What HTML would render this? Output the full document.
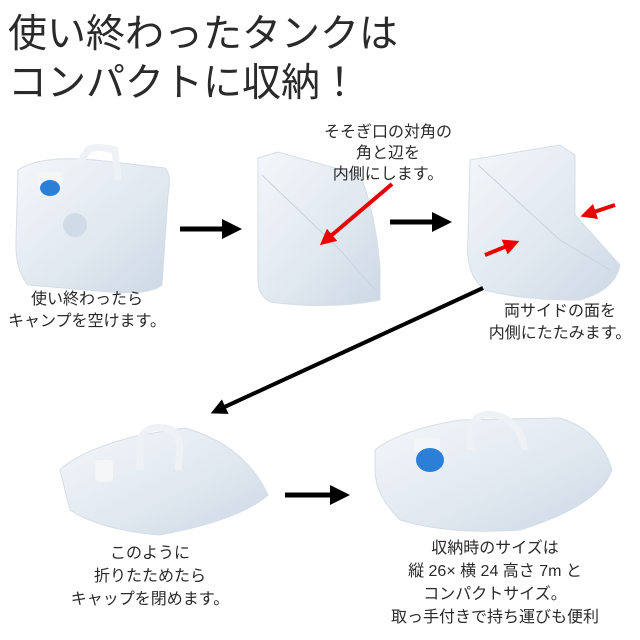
<!DOCTYPE html>
<html><head><meta charset="utf-8"><style>
body{margin:0;background:#fff}
svg{display:block}
text{font-family:"Liberation Sans","Noto Sans CJK JP",sans-serif;fill:#2a2a2a}
.c{font-size:16px;text-anchor:middle}
</style></head><body>
<svg width="640" height="640" viewBox="0 0 640 640">
<defs>
<linearGradient id="g" x1="0" y1="0" x2="1" y2="1"><stop offset="0" stop-color="#f4f7fb"/><stop offset="0.6" stop-color="#dfe7ef"/><stop offset="1" stop-color="#cdd8e4"/></linearGradient>
<marker id="ah" markerWidth="4" markerHeight="4" refX="2" refY="2" orient="auto" markerUnits="strokeWidth"><path d="M0,0 L4,2 L0,4 z" fill="#000"/></marker>
<marker id="rh" markerWidth="4" markerHeight="4" refX="2" refY="2" orient="auto" markerUnits="strokeWidth"><path d="M0,0 L4,2 L0,4 z" fill="#e00"/></marker>
</defs>
<text x="8" y="47" font-size="39">使い終わったタンクは</text>
<text x="8" y="96" font-size="39">コンパクトに収納！</text>

<!-- tank1 -->
<path d="M18,170 Q40,155 95,160 L165,168 Q172,175 168,195 L162,285 Q150,295 110,292 L28,285 Q15,270 16,240 Z" fill="url(#g)" stroke="#d5dde6"/>
<path d="M80,162 L88,150 Q95,145 115,150 L118,180" fill="none" stroke="#eef2f6" stroke-width="7"/>
<rect x="38" y="172" width="24" height="14" fill="#f3f5f8"/>
<ellipse cx="50" cy="188" rx="10" ry="8" fill="#2b7fd6"/>
<circle cx="75" cy="225" r="12" fill="#d0dbe7"/>
<path d="M180,229 L232,229" stroke="#000" stroke-width="5" marker-end="url(#ah)"/>

<!-- tank2 -->
<path d="M258,158 L278,152 L360,175 Q375,210 380,268 L380,300 Q330,310 270,302 Q258,295 258,280 Z" fill="url(#g)" stroke="#d5dde6"/>
<path d="M262,175 L340,250 L375,290" fill="none" stroke="#c8d3df"/>
<path d="M392,184 L326,240" stroke="#e80000" stroke-width="4" marker-end="url(#rh)"/>
<path d="M390,222 L442,222" stroke="#000" stroke-width="5" marker-end="url(#ah)"/>

<!-- tank3 -->
<path d="M470,160 L560,145 L575,155 L575,215 L620,265 Q615,290 580,300 Q520,300 485,290 Q465,275 468,240 Z" fill="url(#g)" stroke="#d5dde6"/>
<path d="M478,165 L560,240 L610,270" fill="none" stroke="#c8d3df"/>
<path d="M615,205 L588,214" stroke="#e80000" stroke-width="4" marker-end="url(#rh)"/>
<path d="M485,255 L512,244" stroke="#e80000" stroke-width="4" marker-end="url(#rh)"/>

<path d="M483,288 L218,410" stroke="#000" stroke-width="4" marker-end="url(#ah)"/>

<!-- tank4 -->
<path d="M60,470 Q80,450 140,435 L185,428 Q245,445 268,495 Q240,520 160,535 Q100,530 70,510 Z" fill="url(#g)" stroke="#d5dde6"/>
<path d="M140,470 L140,440 Q145,425 165,428 Q180,430 180,450 L178,470" fill="none" stroke="#eef2f6" stroke-width="7"/>
<rect x="95" y="460" width="18" height="22" rx="4" fill="#f4f6f8"/>
<path d="M285,495 L340,495" stroke="#000" stroke-width="5" marker-end="url(#ah)"/>

<!-- tank5 -->
<path d="M375,450 Q400,430 460,420 L560,418 Q600,430 612,470 Q600,505 520,530 Q450,535 400,520 Q375,495 375,470 Z" fill="url(#g)" stroke="#d5dde6"/>
<path d="M470,450 L470,428 Q475,412 495,415 Q520,420 525,450" fill="none" stroke="#eef2f6" stroke-width="7"/>
<rect x="414" y="438" width="26" height="14" fill="#f3f5f8"/>
<ellipse cx="430" cy="460" rx="14" ry="12" fill="#2b7fd6"/>

<text class="c" x="87" y="304">使い終わったら</text>
<text class="c" x="87" y="326">キャンプを空けます。</text>
<text class="c" x="388" y="137">そそぎ口の対角の</text>
<text class="c" x="388" y="158">角と辺を</text>
<text class="c" x="388" y="179">内側にします。</text>
<text class="c" x="560" y="316">両サイドの面を</text>
<text class="c" x="560" y="338">内側にたたみます。</text>
<text class="c" x="150" y="558">このように</text>
<text class="c" x="150" y="581">折りたためたら</text>
<text class="c" x="150" y="604">キャップを閉めます。</text>
<text class="c" x="495" y="553">収納時のサイズは</text>
<text class="c" x="495" y="576">縦 26× 横 24 高さ 7m と</text>
<text class="c" x="495" y="599">コンパクトサイズ。</text>
<text class="c" x="495" y="622">取っ手付きで持ち運びも便利</text>
</svg>
</body></html>
